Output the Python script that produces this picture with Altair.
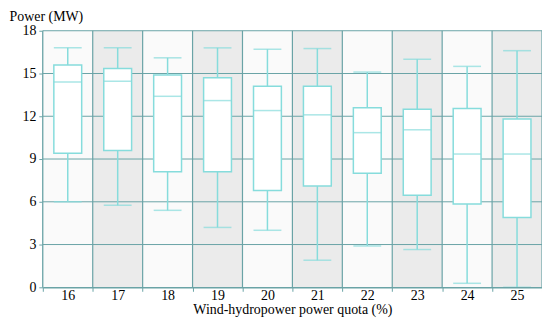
import altair as alt
import pandas as pd

quota = ["16", "17", "18", "19", "20", "21", "22", "23", "24", "25"]
lower = [6.0, 5.75, 5.4, 4.2, 4.0, 1.9, 2.9, 2.65, 0.28, 0.0]
q1 = [9.4, 9.6, 8.1, 8.1, 6.8, 7.1, 8.0, 6.45, 5.85, 4.9]
median = [14.4, 14.45, 13.4, 13.1, 12.4, 12.1, 10.85, 11.05, 9.35, 9.35]
q3 = [15.6, 15.35, 14.9, 14.7, 14.1, 14.1, 12.6, 12.5, 12.55, 11.8]
upper = [16.8, 16.8, 16.1, 16.8, 16.7, 16.75, 15.1, 16.0, 15.5, 16.6]
shade = ["light", "dark"] * 5
grid_y = [3, 6, 9, 12, 15, 18]

df = pd.DataFrame({"quota": quota, "lower": lower, "q1": q1, "median": median,
                   "q3": q3, "upper": upper, "shade": shade})
gdf = pd.DataFrame({"g": grid_y})
edge_df = pd.DataFrame({"quota": [quota[-1]]})

FONT = "Liberation Serif"
GRID = "#6aa3a6"
BOX = "#86dcdc"

xscale = alt.Scale(paddingInner=0, paddingOuter=0, domain=quota)
xenc = alt.X("quota:N", scale=xscale,
             axis=alt.Axis(title="Wind-hydropower power quota (%)", labelAngle=0,
                           tickBand="extent", grid=False,
                           titlePadding=0, labelPadding=-3, domainWidth=1.5))
yscale = alt.Scale(domain=[0, 18], nice=False)
yaxis = alt.Axis(title="Power (MW)", values=[0, 3, 6, 9, 12, 15, 18],
                 grid=False, domainWidth=2, labelPadding=3,
                 titleAngle=0, titleAlign="left", titleBaseline="top",
                 titleX=-34, titleY=-21)

base = alt.Chart(df)

bg = base.mark_rect(strokeWidth=0).encode(
    x=xenc,
    y=alt.Y("y0:Q", scale=yscale, axis=yaxis), y2="y1:Q",
    color=alt.Color("shade:N", scale=alt.Scale(domain=["light", "dark"],
                                               range=["#fafafa", "#ebebeb"]),
                    legend=None),
).transform_calculate(y0="0", y1="18")

hgrid = alt.Chart(gdf).mark_rule(color=GRID, strokeWidth=1).encode(y=alt.Y("g:Q"))
vgrid = base.mark_rule(color=GRID, strokeWidth=1.2).encode(
    x=alt.X("quota:N", bandPosition=0))
vedge = alt.Chart(edge_df).mark_rule(color=GRID, strokeWidth=1.2).encode(
    x=alt.X("quota:N", bandPosition=1))

whisk_lo = base.mark_rule(color=BOX, strokeWidth=1.5).encode(
    x=alt.X("quota:N"), y=alt.Y("lower:Q"), y2="q1:Q")
whisk_hi = base.mark_rule(color=BOX, strokeWidth=1.5).encode(
    x=alt.X("quota:N"), y=alt.Y("q3:Q"), y2="upper:Q")
box = base.mark_bar(fill="white", stroke=BOX, strokeWidth=1.5, size=28).encode(
    x=alt.X("quota:N"), y=alt.Y("q1:Q"), y2="q3:Q")
med = base.mark_tick(color=BOX, thickness=1.5, size=28, orient="horizontal").encode(
    x=alt.X("quota:N"), y=alt.Y("median:Q"))
cap_lo = base.mark_tick(color=BOX, thickness=1.5, size=28, orient="horizontal").encode(
    x=alt.X("quota:N"), y=alt.Y("lower:Q"))
cap_hi = base.mark_tick(color=BOX, thickness=1.5, size=28, orient="horizontal").encode(
    x=alt.X("quota:N"), y=alt.Y("upper:Q"))

chart = alt.layer(bg, hgrid, vgrid, vedge, whisk_lo, whisk_hi, box, med,
                  cap_lo, cap_hi).properties(
    width=502, height=258,
    autosize=alt.AutoSizeParams(type="none"),
    padding={"left": 35, "top": 22, "right": 0, "bottom": 30},
).configure(font=FONT).configure_view(stroke=None).configure_axis(
    domainColor=GRID, tickColor=GRID, tickSize=4, labelFontSize=14,
    titleFontSize=14, labelFont=FONT, titleFont=FONT, labelColor="black",
    titleColor="black", titleFontWeight="normal",
)

chart.save("out.html", embed_options={"renderer": "svg", "actions": False})
